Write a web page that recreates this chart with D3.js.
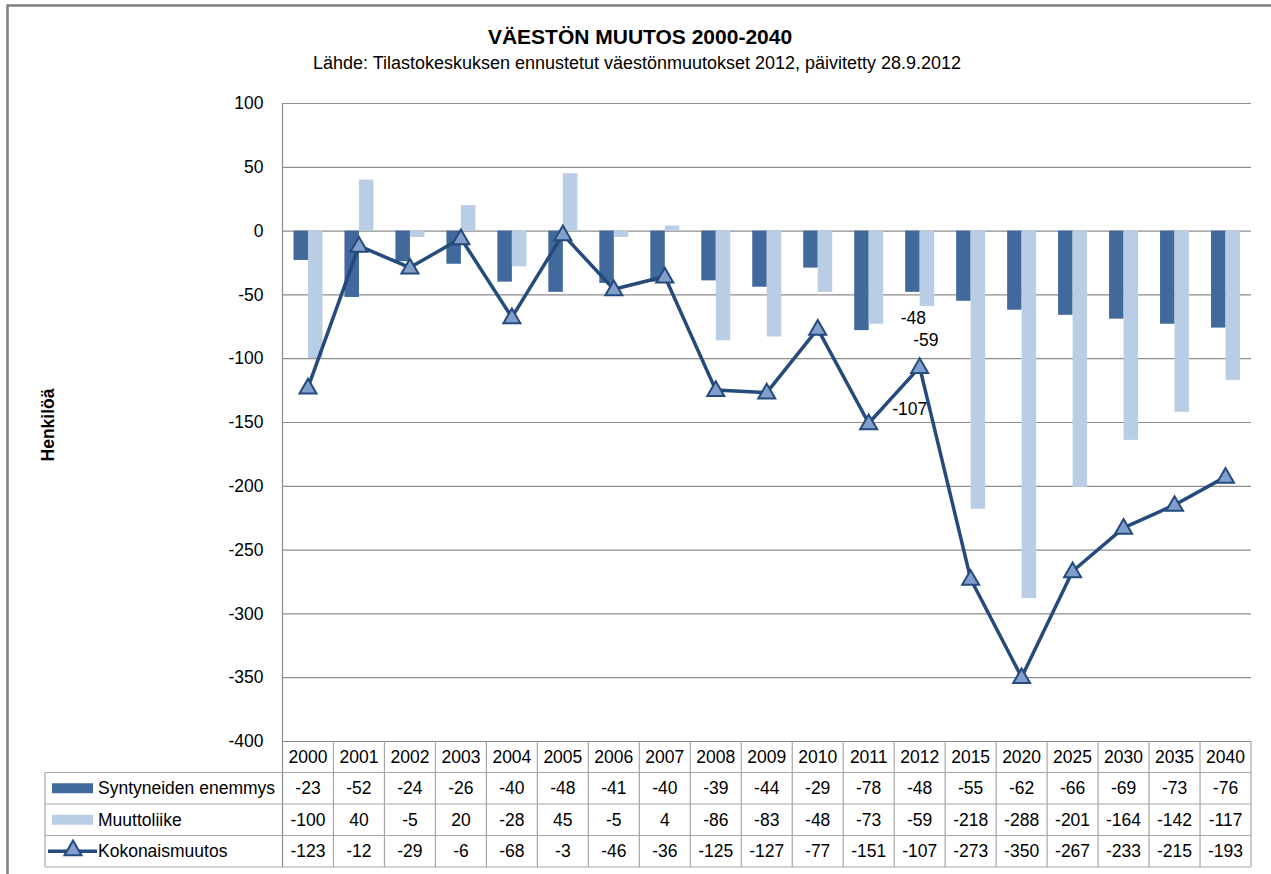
<!DOCTYPE html>
<html>
<head>
<meta charset="utf-8">
<script src="https://cdn.jsdelivr.net/npm/d3@7"></script>
<style>
  body { margin: 0; background: #fff; }
  text { font-family: "Liberation Sans", Arial, sans-serif; fill: #000; }
</style>
</head>
<body>
<div id="chart"></div>
<script>
// vuodet ja sarjat (taulukosta luettu)
const years = ["2000","2001","2002","2003","2004","2005","2006","2007","2008","2009","2010","2011","2012","2015","2020","2025","2030","2035","2040"];
const syntyneet = [-23,-52,-24,-26,-40,-48,-41,-40,-39,-44,-29,-78,-48,-55,-62,-66,-69,-73,-76];
const muuttoliike = [-100,40,-5,20,-28,45,-5,4,-86,-83,-48,-73,-59,-218,-288,-201,-164,-142,-117];
const kokonais = [-123,-12,-29,-6,-68,-3,-46,-36,-125,-127,-77,-151,-107,-273,-350,-267,-233,-215,-193];
const yTicks = [100,50,0,-50,-100,-150,-200,-250,-300,-350,-400];
const seriesNames = ["Syntyneiden enemmys", "Muuttoliike", "Kokonaismuutos"];
const labelYear = "2012"; // vain tälle vuodelle arvolaput

const width = 1271, height = 874;
const plot = { left: 282.5, right: 1251, top: 103, bottom: 741 };
const tableLeft = 45, rowH = 31.5;

const cDark = "#41699c", cLight = "#b9cde5", cLine = "#254a7c", cMarker = "#819fcd";
const gridColor = "#8c8c8c", tableColor = "#a6a6a6";
const fs = 17.5;

const svg = d3.select("#chart").append("svg")
    .attr("width", width)
    .attr("height", height);

// kehys
svg.append("rect")
    .attr("x", 7.5).attr("y", 5.5)
    .attr("width", 1300).attr("height", 900)
    .attr("fill", "none")
    .attr("stroke", "#7f7f7f")
    .attr("stroke-width", 2.5);

const y = d3.scaleLinear().domain([-400, 100]).range([plot.bottom, plot.top]);
const x = d3.scaleBand().domain(years).range([plot.left, plot.right]).padding(0);
const bw = 14.5;

// otsikot
svg.append("text")
    .attr("x", 640).attr("y", 44)
    .attr("text-anchor", "middle")
    .attr("font-size", 21).attr("font-weight", "bold")
    .text("VÄESTÖN MUUTOS 2000-2040");
svg.append("text")
    .attr("x", 637).attr("y", 69)
    .attr("text-anchor", "middle")
    .attr("font-size", 18)
    .attr("textLength", 648)
    .attr("lengthAdjust", "spacingAndGlyphs")
    .text("Lähde: Tilastokeskuksen ennustetut väestönmuutokset 2012, päivitetty 28.9.2012");

svg.append("text")
    .attr("transform", "translate(54,425) rotate(-90)")
    .attr("text-anchor", "middle")
    .attr("font-size", 17.5).attr("font-weight", "bold")
    .text("Henkilöä");

// y-akseli + ruudukko
const yAxis = svg.append("g")
    .attr("transform", `translate(${plot.left},0)`)
    .call(d3.axisLeft(y).tickValues(yTicks).tickSize(0).tickPadding(19).tickFormat(d => String(d)))
    .call(g => g.select(".domain").remove());
yAxis.selectAll(".tick text")
    .attr("font-size", fs)
    .attr("font-family", "Liberation Sans, Arial, sans-serif")
    .attr("fill", "#000");
yAxis.selectAll(".tick line").clone()
    .attr("x2", plot.right - plot.left)
    .attr("stroke", gridColor)
    .attr("stroke-width", 1.2);

svg.append("line")
    .attr("x1", plot.left).attr("x2", plot.left)
    .attr("y1", plot.top).attr("y2", plot.bottom + rowH * 4)
    .attr("stroke", gridColor).attr("stroke-width", 1.2);

// pylväät
const cx = d => x(d) + x.bandwidth() / 2;
svg.append("g").selectAll("rect")
    .data(years.map((d, i) => ({ year: d, v: syntyneet[i] })))
    .join("rect")
    .attr("x", d => cx(d.year) - bw)
    .attr("width", bw)
    .attr("y", d => Math.min(y(d.v), y(0)))
    .attr("height", d => Math.abs(y(d.v) - y(0)))
    .attr("fill", cDark);
svg.append("g").selectAll("rect")
    .data(years.map((d, i) => ({ year: d, v: muuttoliike[i] })))
    .join("rect")
    .attr("x", d => cx(d.year))
    .attr("width", bw)
    .attr("y", d => Math.min(y(d.v), y(0)))
    .attr("height", d => Math.abs(y(d.v) - y(0)))
    .attr("fill", cLight);

// kokonaismuutos-viiva
const pts = years.map((d, i) => ({ year: d, v: kokonais[i] }));
svg.append("path")
    .datum(pts)
    .attr("fill", "none")
    .attr("stroke", cLine)
    .attr("stroke-width", 3.5)
    .attr("stroke-linejoin", "round")
    .attr("d", d3.line().x(d => cx(d.year)).y(d => y(d.v)));

const tri = d3.symbol().type(d3.symbolTriangle).size(125);
svg.append("g").selectAll("path")
    .data(pts)
    .join("path")
    .attr("transform", d => `translate(${cx(d.year)},${y(d.v) + 1})`)
    .attr("d", tri)
    .attr("fill", cMarker)
    .attr("stroke", cLine)
    .attr("stroke-width", 2);

// arvolaput vuodelle 2012
const li = years.indexOf(labelYear);
svg.append("text")
    .attr("x", cx(labelYear) - bw / 2 + 1).attr("y", y(syntyneet[li]) + 32)
    .attr("text-anchor", "middle").attr("font-size", fs)
    .text(syntyneet[li]);
svg.append("text")
    .attr("x", cx(labelYear) + bw / 2 - 1).attr("y", y(muuttoliike[li]) + 40)
    .attr("text-anchor", "middle").attr("font-size", fs)
    .text(muuttoliike[li]);
svg.append("text")
    .attr("x", cx(labelYear) - 10).attr("y", y(kokonais[li]) + 48)
    .attr("text-anchor", "middle").attr("font-size", fs)
    .text(kokonais[li]);

// datataulukko
const tbl = svg.append("g");
const tableBottom = plot.bottom + rowH * 4;
[1, 2, 3, 4].forEach(r => {
    tbl.append("line")
        .attr("x1", tableLeft).attr("x2", plot.right)
        .attr("y1", plot.bottom + rowH * r).attr("y2", plot.bottom + rowH * r)
        .attr("stroke", tableColor).attr("stroke-width", 1.2);
});
tbl.append("line")
    .attr("x1", tableLeft).attr("x2", tableLeft)
    .attr("y1", plot.bottom + rowH).attr("y2", tableBottom)
    .attr("stroke", tableColor).attr("stroke-width", 1.2);
years.forEach(yr => {
    tbl.append("line")
        .attr("x1", x(yr) + x.bandwidth()).attr("x2", x(yr) + x.bandwidth())
        .attr("y1", plot.bottom).attr("y2", tableBottom)
        .attr("stroke", tableColor).attr("stroke-width", 1.2);
});
tbl.selectAll("text.yr")
    .data(years)
    .join("text")
    .attr("x", d => cx(d))
    .attr("y", plot.bottom + rowH / 2)
    .attr("dy", "0.35em")
    .attr("text-anchor", "middle")
    .attr("font-size", fs)
    .text(d => d);

const rows = [syntyneet, muuttoliike, kokonais];
rows.forEach((vals, r) => {
    const ry = plot.bottom + rowH * (r + 1) + rowH / 2;
    tbl.append("g").selectAll("text")
        .data(vals)
        .join("text")
        .attr("x", (d, i) => cx(years[i]))
        .attr("y", ry)
        .attr("dy", "0.35em")
        .attr("text-anchor", "middle")
        .attr("font-size", fs)
        .text(d => d);
    tbl.append("text")
        .attr("x", 98).attr("y", ry)
        .attr("dy", "0.35em")
        .attr("font-size", fs)
        .text(seriesNames[r]);
});
// selitteen merkit
const k1 = plot.bottom + rowH * 1.5, k2 = plot.bottom + rowH * 2.5, k3 = plot.bottom + rowH * 3.5;
tbl.append("rect").attr("x", 52).attr("y", k1 - 5).attr("width", 41).attr("height", 10).attr("fill", cDark);
tbl.append("rect").attr("x", 52).attr("y", k2 - 5).attr("width", 41).attr("height", 10).attr("fill", cLight);
tbl.append("line").attr("x1", 48).attr("x2", 97).attr("y1", k3).attr("y2", k3)
    .attr("stroke", cLine).attr("stroke-width", 3.5);
tbl.append("path")
    .attr("transform", `translate(73,${k3 - 1})`)
    .attr("d", tri)
    .attr("fill", cMarker).attr("stroke", cLine).attr("stroke-width", 2);
</script>
</body>
</html>
